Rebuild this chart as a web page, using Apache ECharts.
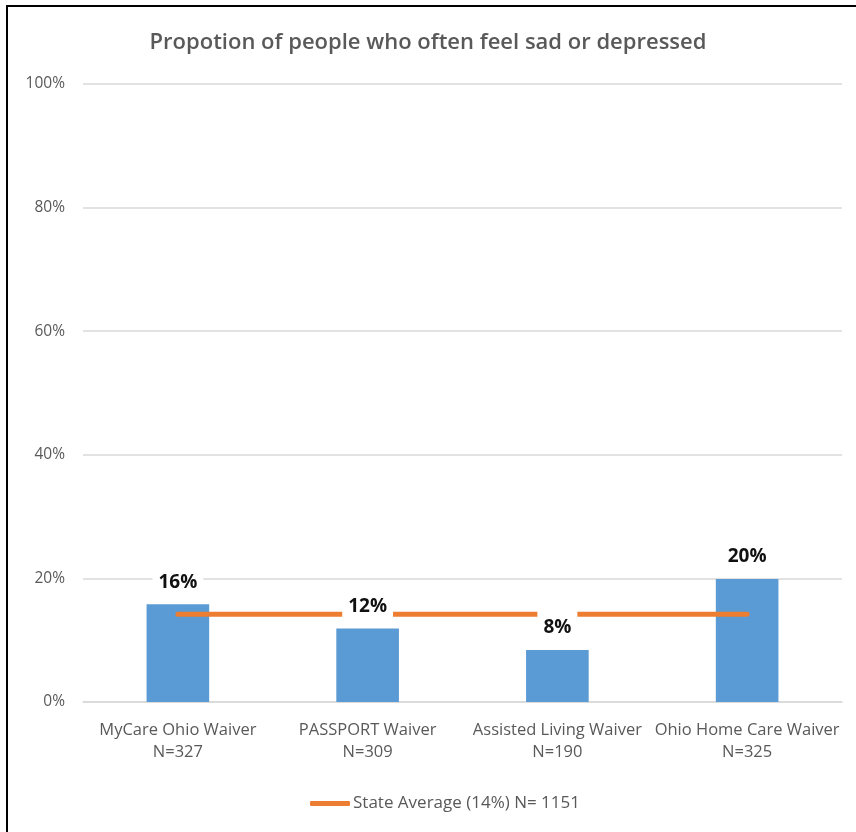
<!DOCTYPE html>
<html>
<head>
<meta charset="utf-8">
<script src="https://cdn.jsdelivr.net/npm/echarts@6/dist/echarts.min.js"></script>
<style>
  html, body { margin: 0; padding: 0; background: #fff; }
  #chart { width: 856px; height: 832px; }
  #frame { position: absolute; left: 6px; top: 5px; width: 900px; height: 900px;
           border-left: 2px solid #000; border-top: 2px solid #000; pointer-events: none; }
</style>
</head>
<body>
<div id="chart"></div>
<div id="frame"></div>
<script>
const titleText = 'Propotion of people who often feel sad or depressed';
const categories = ['MyCare Ohio Waiver\nN=327', 'PASSPORT Waiver\nN=309', 'Assisted Living Waiver\nN=190', 'Ohio Home Care Waiver\nN=325'];
const waiverValues = [15.8, 11.9, 8.4, 19.9];
const stateAverage = [14.2, 14.2, 14.2, 14.2];
const stateName = 'State Average (14%) N= 1151';

const FONT = '"Open Sans", sans-serif';
const chart = echarts.init(document.getElementById('chart'));
chart.setOption({
  animation: false,
  textStyle: { fontFamily: FONT },
  title: {
    text: titleText, left: 'center', top: 27,
    textStyle: { fontFamily: FONT, fontSize: 22, fontWeight: 600, color: '#595959' }
  },
  grid: { left: 83, right: 14, top: 84, bottom: 130 },
  legend: {
    data: [stateName], left: 305, top: 790,
    icon: 'roundRect', itemWidth: 40, itemHeight: 5, itemGap: 10,
    textStyle: { fontFamily: FONT, fontSize: 17, color: '#595959', padding: [0,0,0,-2] }
  },
  xAxis: {
    type: 'category', data: categories,
    axisTick: { show: false },
    axisLine: { lineStyle: { color: '#D9D9D9', width: 1.5 } },
    axisLabel: { fontFamily: FONT, fontSize: 16.5, color: '#595959', lineHeight: 22, margin: 17, interval: 0 }
  },
  yAxis: {
    type: 'value', min: 0, max: 100, interval: 20,
    axisLabel: { fontFamily: FONT, fontSize: 15.5, color: '#595959', formatter: '{value}%', margin: 18 },
    splitLine: { lineStyle: { color: '#D9D9D9', width: 1.5 } },
    axisLine: { show: false }, axisTick: { show: false }
  },
  series: [
    {
      name: 'Waiver', type: 'bar', data: waiverValues, barWidth: '33%', z: 2,
      itemStyle: { color: '#5B9BD5' }
    },
    {
      name: stateName, type: 'line', data: stateAverage, z: 5,
      showSymbol: false, symbol: 'none',
      lineStyle: { color: '#ED7D31', width: 5, cap: 'round' },
      itemStyle: { color: '#ED7D31' }
    },
    {
      name: 'labels', type: 'bar', data: waiverValues, barWidth: '33%', barGap: '-100%', z: 10,
      itemStyle: { color: 'rgba(0,0,0,0)' },
      label: {
        show: true, position: 'top', distance: 9,
        formatter: p => Math.round(p.value) + '%',
        fontFamily: FONT, fontSize: 19, fontWeight: 'bold', color: '#111',
        backgroundColor: '#fff', padding: [7, 6, 3, 6], lineHeight: 20
      }
    }
  ]
});
</script>
</body>
</html>
